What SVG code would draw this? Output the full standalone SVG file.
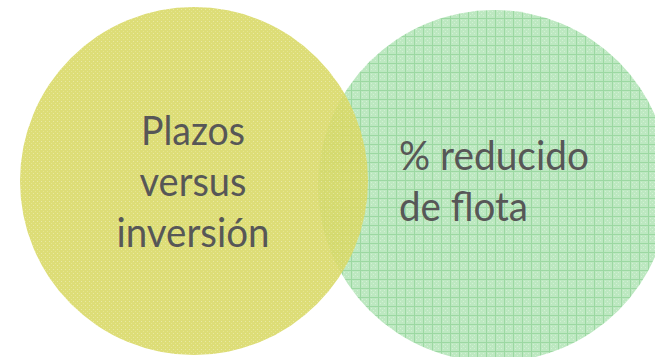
<svg xmlns="http://www.w3.org/2000/svg" width="655" height="357" viewBox="0 0 655 357">
  <style>
    .lbl { font-family: "Lato", "Open Sans", "Liberation Sans", sans-serif; font-size: 40px; fill: #575757; }
  </style>
  <defs>
    <pattern id="dotY" x="0" y="0" width="4" height="4" patternUnits="userSpaceOnUse">
      <rect width="4" height="4" fill="#d9d968"/>
      <rect x="1" y="1" width="1" height="1" fill="#e7e79a"/>
      <rect x="3" y="3" width="1" height="1" fill="#e2e285"/>
    </pattern>
    <pattern id="gridG" x="0" y="0" width="9" height="9" patternUnits="userSpaceOnUse">
      <rect width="9" height="9" fill="#bde8c1"/>
      <rect x="2" y="2" width="1" height="1" fill="#d2f0d4"/>
      <rect x="4" y="4" width="1" height="1" fill="#d2f0d4"/>
      <rect x="6" y="2" width="1" height="1" fill="#d2f0d4"/>
      <rect x="2" y="6" width="1" height="1" fill="#d2f0d4"/>
      <rect x="6" y="6" width="1" height="1" fill="#d2f0d4"/>
      <rect x="0" y="0" width="9" height="1" fill="#9cd8a2"/>
      <rect x="0" y="0" width="1" height="9" fill="#9cd8a2"/>
    </pattern>
  </defs>
  <rect width="655" height="357" fill="#ffffff"/>
  <g id="circle-flota">
    <circle cx="494" cy="186" r="176" fill="url(#gridG)"/>
  </g>
  <g id="circle-plazos">
    <circle cx="194" cy="181" r="174" fill="url(#dotY)" opacity="0.9"/>
  </g>
  <g id="label-plazos">
    <text class="lbl" x="193" y="145" text-anchor="middle" textLength="104" lengthAdjust="spacingAndGlyphs">Plazos</text>
    <text class="lbl" x="193" y="196" text-anchor="middle" textLength="107" lengthAdjust="spacingAndGlyphs">versus</text>
    <text class="lbl" x="193" y="247" text-anchor="middle" textLength="153" lengthAdjust="spacingAndGlyphs">inversión</text>
  </g>
  <g id="label-flota">
    <text class="lbl" x="399" y="170" textLength="190" lengthAdjust="spacingAndGlyphs">% reducido</text>
    <text class="lbl" x="399" y="221" textLength="129" lengthAdjust="spacingAndGlyphs">de flota</text>
  </g>
  <g id="connectors"/>
</svg>
